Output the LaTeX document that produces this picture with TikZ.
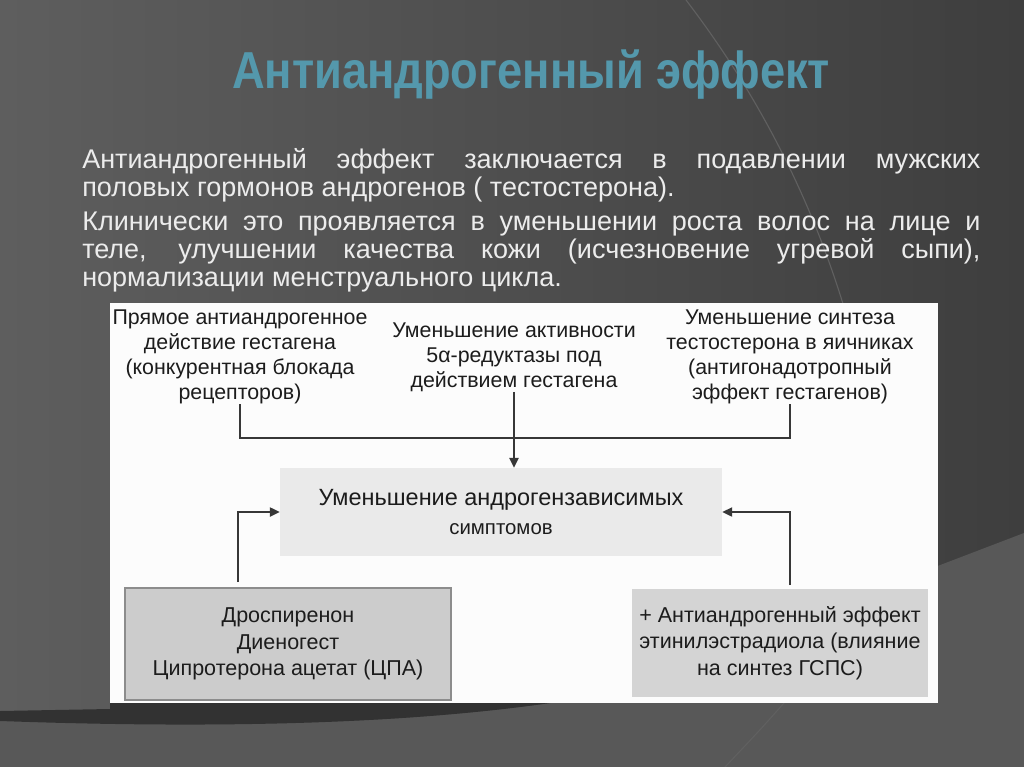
\documentclass[tikz,border=0pt]{standalone}
\usepackage{fontspec}
\setmainfont{Liberation Sans}
\newfontfamily\titlefont{Liberation Sans}[FakeStretch=0.87]
\usetikzlibrary{arrows.meta, positioning}
\definecolor{bgL}{RGB}{94,94,94}
\definecolor{bgR}{RGB}{62,62,62}
\definecolor{lowbg}{RGB}{88,88,88}
\definecolor{bandcol}{RGB}{50,50,50}
\definecolor{swooshcol}{RGB}{96,96,96}
\definecolor{teal}{RGB}{84,152,172}
\definecolor{bodytxt}{RGB}{236,236,236}
\definecolor{panel}{RGB}{252,252,252}
\definecolor{symfill}{RGB}{234,234,234}
\definecolor{lbfill}{RGB}{204,204,204}
\definecolor{lbdraw}{RGB}{140,140,140}
\definecolor{rbfill}{RGB}{212,212,212}
\definecolor{linecol}{RGB}{55,55,55}
\definecolor{diagtxt}{RGB}{28,28,28}
\tikzstyle{note} = [align=center, inner sep=0pt, text=diagtxt, font=\fontsize{15.2}{17.8}\selectfont]
\tikzstyle{grbox} = [rectangle, align=center, inner sep=0pt, text=diagtxt, font=\fontsize{15.3}{19}\selectfont]
\tikzstyle{link} = [line width=1.3pt, draw=linecol]
\tikzstyle{arrow} = [link, -{Triangle[length=7pt,width=6.5pt]}]

\begin{document}
\begin{tikzpicture}[x=0.025cm,y=-0.025cm]
\useasboundingbox (0,0) rectangle (1024,767);
\shade[left color=bgL, right color=bgR] (0,0) rectangle (1024,767);
\draw[swooshcol, line width=0.8pt] (686,0) .. controls (770,110) and (850,260) .. (880,470);
\fill[lowbg] (1024,533) -- (600,695) .. controls (450,722) and (250,730) .. (0,721) -- (0,767) -- (1024,767) -- cycle;
\fill[bandcol] (0,711) -- (110,709) -- (110,690) -- (600,690) -- (600,695) .. controls (450,722) and (250,730) .. (0,721) -- cycle;
\draw[swooshcol, line width=0.8pt] (784,703) .. controls (760,730) .. (725,767);

\node[text=teal, font=\titlefont\bfseries\fontsize{37}{40}\selectfont] (title) at (531,75) {Антиандрогенный эффект};

\node[anchor=north west, text width=22.45cm, align=justify, inner sep=0pt, text=bodytxt, font=\fontsize{19.2}{19.9}\selectfont] (body) at (82,148)
                {\parindent=0pt Антиандрогенный эффект заключается в подавлении мужских\linebreak
                половых гормонов андрогенов ( тестостерона).\par\vspace{4.5pt}
                Клинически это проявляется в уменьшении роста волос на лице и\linebreak
                теле, улучшении качества кожи (исчезновение угревой сыпи),\linebreak
                нормализации менструального цикла.};

\fill[panel] (110,303) rectangle (938,703);

\node[note] (direct) at (240,357) {Прямое антиандрогенное\\действие гестагена\\(конкурентная блокада\\рецепторов)};
\node[note] (reduct) at (514,357) {Уменьшение активности\\5α-редуктазы под\\действием гестагена};
\node[note] (ovary) at (790,357) {Уменьшение синтеза\\тестостерона в яичниках\\(антигонадотропный\\эффект гестагенов)};

\node[rectangle, fill=symfill, minimum width=11.05cm, minimum height=2.2cm, align=center, text=diagtxt, font=\fontsize{16.7}{21}\selectfont] (sym) at (501,512) {Уменьшение андрогензависимых\\{\fontsize{14.5}{21}\selectfont симптомов}};

\node[grbox, fill=lbfill, draw=lbdraw, line width=0.8pt, minimum width=8.15cm, minimum height=2.8cm] (drugs) at (288,644) {Дроспиренон\\Диеногест\\Ципротерона ацетат (ЦПА)};
\node[grbox, fill=rbfill, minimum width=7.375cm, minimum height=2.675cm] (ee) at (780,643) {+ Антиандрогенный эффект\\этинилэстрадиола (влияние\\на синтез ГСПС)};

\coordinate (bus) at (514,438);
\coordinate (lft) at (238,582);
\coordinate (rgt) at (790,585);
\draw[link] (direct.south) |- (bus) -| (ovary.south);
\draw[arrow] (reduct.south) -- (reduct.south |- sym.north);
\draw[arrow] (lft) |- (sym.west);
\draw[arrow] (rgt) |- (sym.east);
\end{tikzpicture}
\end{document}
